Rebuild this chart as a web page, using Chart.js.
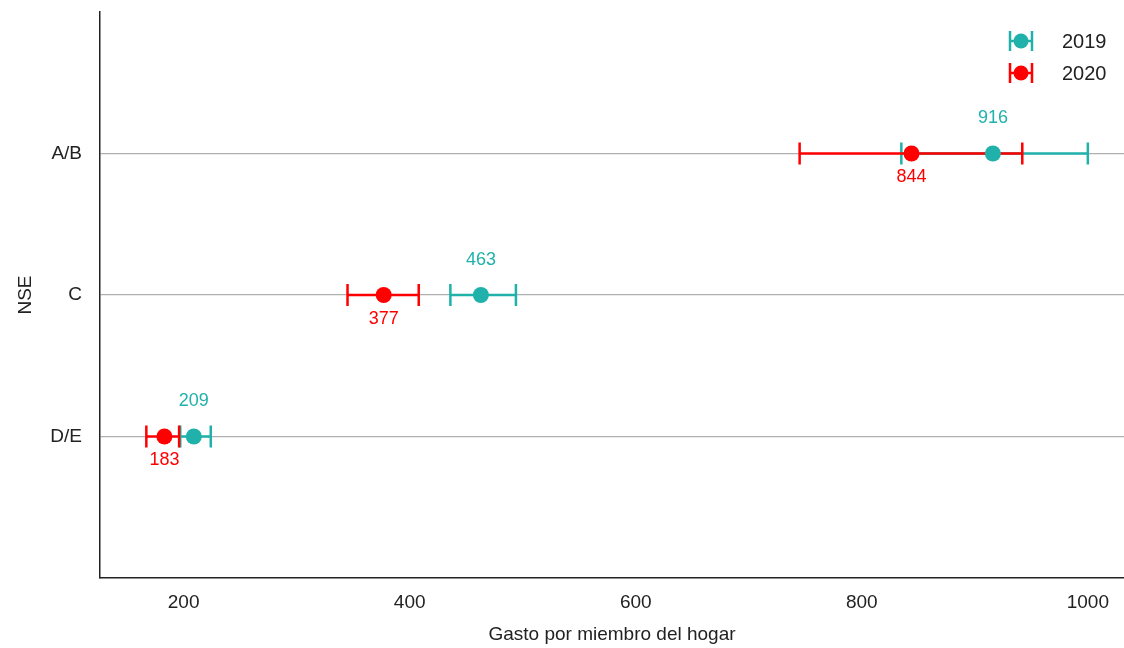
<!DOCTYPE html>
<html>
<head>
<meta charset="utf-8">
<script src="https://cdn.jsdelivr.net/npm/chart.js@4"></script>
<style>
  body { margin: 0; background: #fff; }
  canvas { display: block; }
</style>
</head>
<body>
<canvas id="nseChart" width="1124" height="648"></canvas>
<script>
// categorias (de arriba hacia abajo)
const categories = ['A/B', 'C', 'D/E'];
const catPos = [2, 1, 0];

const years = ['2019', '2020'];
const mean2019 = [916, 463, 209];
const low2019 = [835, 436, 197];
const high2019 = [1000, 494, 224];
const mean2020 = [844, 377, 183];
const low2020 = [745, 345, 167];
const high2020 = [942, 408, 196];

const xTicks = [200, 400, 600, 800, 1000];

const colTeal = '#20B2AA';
const colRed = '#FF0000';
const FONT = 'Arial, "Liberation Sans", sans-serif';

function buildPoints(means, lows, highs) {
    return means.map((m, i) => ({ x: m, y: catPos[i], lo: lows[i], hi: highs[i] }));
}

// barras de error + etiquetas + leyenda
const errorBarPlugin = {
    id: 'errorBars',
    beforeDatasetsDraw(chart) {
        const ctx = chart.ctx;
        const xs = chart.scales.x, ys = chart.scales.y;
        chart.data.datasets.forEach(ds => {
            ctx.save();
            ctx.strokeStyle = ds.borderColor;
            ctx.lineWidth = 2.5;
            ds.data.forEach(p => {
                const y = ys.getPixelForValue(p.y);
                const x1 = xs.getPixelForValue(p.lo);
                const x2 = xs.getPixelForValue(p.hi);
                ctx.beginPath();
                ctx.moveTo(x1, y); ctx.lineTo(x2, y);
                ctx.moveTo(x1, y - 11); ctx.lineTo(x1, y + 11);
                ctx.moveTo(x2, y - 11); ctx.lineTo(x2, y + 11);
                ctx.stroke();
            });
            ctx.restore();
        });
    },
    afterDatasetsDraw(chart) {
        const ctx = chart.ctx;
        const xs = chart.scales.x, ys = chart.scales.y;
        ctx.save();
        ctx.font = '18px ' + FONT;
        ctx.textAlign = 'center';
        ctx.textBaseline = 'middle';
        chart.data.datasets.forEach((ds, di) => {
            ctx.fillStyle = ds.borderColor;
            ds.data.forEach(p => {
                const x = xs.getPixelForValue(p.x);
                const y = ys.getPixelForValue(p.y);
                ctx.fillText(String(p.x), x, di === 0 ? y - 35 : y + 24);
            });
        });

        // leyenda
        chart.data.datasets.forEach((ds, di) => {
            const cx = 1021, cy = 41 + di * 32;
            ctx.strokeStyle = ds.borderColor;
            ctx.fillStyle = ds.borderColor;
            ctx.lineWidth = 2.5;
            ctx.beginPath();
            ctx.moveTo(cx - 11, cy); ctx.lineTo(cx + 11, cy);
            ctx.moveTo(cx - 11, cy - 10); ctx.lineTo(cx - 11, cy + 10);
            ctx.moveTo(cx + 11, cy - 10); ctx.lineTo(cx + 11, cy + 10);
            ctx.stroke();
            ctx.beginPath();
            ctx.arc(cx, cy, 7.5, 0, Math.PI * 2);
            ctx.fill();
            ctx.fillStyle = '#222';
            ctx.font = '20px ' + FONT;
            ctx.textAlign = 'left';
            ctx.fillText(ds.label, 1062, cy + 1);
        });
        ctx.restore();
    }
};

const nseCtx = document.getElementById('nseChart').getContext('2d');
const nseChart = new Chart(nseCtx, {
    type: 'scatter',
    data: {
        datasets: [{
            label: years[0],
            data: buildPoints(mean2019, low2019, high2019),
            backgroundColor: colTeal,
            borderColor: colTeal,
            pointRadius: 8,
            pointBorderWidth: 0
        }, {
            label: years[1],
            data: buildPoints(mean2020, low2020, high2020),
            backgroundColor: colRed,
            borderColor: colRed,
            pointRadius: 8,
            pointBorderWidth: 0
        }]
    },
    options: {
        responsive: false,
        animation: false,
        layout: { autoPadding: false, padding: { top: 12, right: 0, left: 0, bottom: 0 } },
        plugins: {
            legend: { display: false },
            tooltip: { enabled: false }
        },
        scales: {
            x: {
                type: 'linear',
                min: 126,
                max: 1032,
                afterBuildTicks: s => { s.ticks = xTicks.map(v => ({ value: v })); },
                afterFit: s => { s.height = 70; s.paddingLeft = 0; s.paddingRight = 0; },
                grid: { display: false, drawTicks: false },
                border: { display: true, color: '#222', width: 1.5 },
                ticks: {
                    color: '#222',
                    font: { size: 19, family: FONT },
                    padding: 13,
                    callback: v => String(v)
                },
                title: {
                    display: true,
                    text: 'Gasto por miembro del hogar',
                    color: '#222',
                    font: { size: 19, family: FONT },
                    padding: { top: 0, bottom: 2 }
                }
            },
            y: {
                type: 'linear',
                min: -1,
                max: 3,
                afterBuildTicks: s => { s.ticks = catPos.map(v => ({ value: v })); },
                afterFit: s => { s.width = 100; s.paddingTop = 0; s.paddingBottom = 0; },
                grid: { color: '#b0b0b0', lineWidth: 1.2, drawTicks: false },
                border: { display: true, color: '#222', width: 1.5 },
                ticks: {
                    color: '#222',
                    font: { size: 19, family: FONT },
                    padding: 18,
                    callback: v => categories[catPos.indexOf(v)]
                },
                title: {
                    display: true,
                    text: 'NSE',
                    color: '#222',
                    font: { size: 19, family: FONT },
                    padding: { top: 14, bottom: 0 }
                }
            }
        }
    },
    plugins: [errorBarPlugin]
});
</script>
</body>
</html>
